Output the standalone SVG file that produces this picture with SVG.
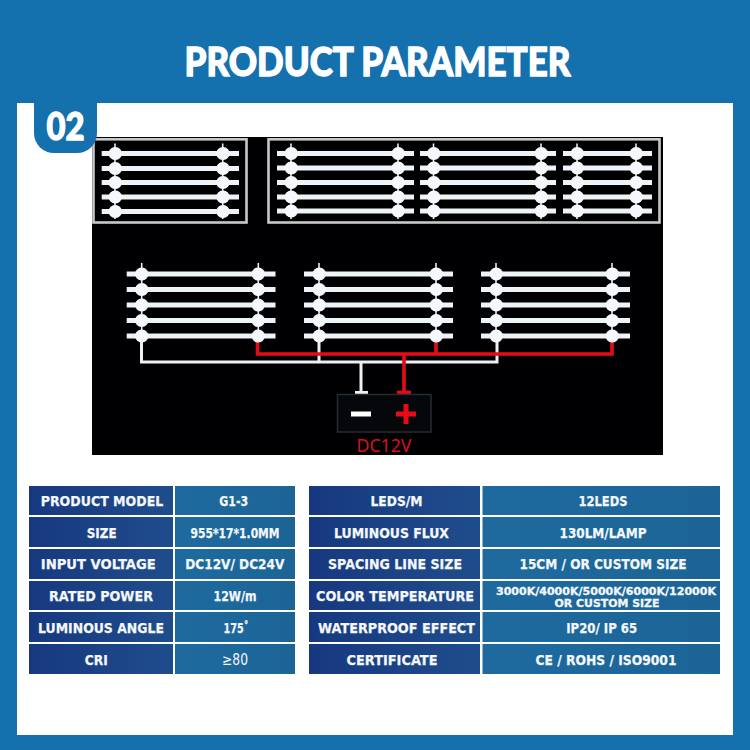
<svg xmlns="http://www.w3.org/2000/svg" width="750" height="750" viewBox="0 0 750 750">
<style>
.t{font-family:"DejaVu Sans","Liberation Sans",sans-serif;font-weight:700;font-size:14px;fill:#f4f7fb;stroke:#f4f7fb;stroke-width:.25;text-anchor:middle}
.s{font-size:10.5px;stroke-width:.3}
.n{font-weight:400;stroke-width:0;font-size:15px}
.h{font-family:Lato,"Liberation Sans",sans-serif;font-weight:900;fill:#fff;stroke:#fff;stroke-width:1.3;text-anchor:middle}
.bar{fill:none;stroke:#eef3f8;stroke-width:5.2}
.pin{fill:none;stroke:#e8edf2;stroke-width:1.6}
.bead{fill:none;stroke:#f4f7fb;stroke-width:13;stroke-linecap:round}
.frame{fill:#000;stroke:#c6c9cc;stroke-width:2.6}
.l{fill:url(#lg)}
.v{fill:url(#vg)}
.wire-w{fill:none;stroke:#eef0f2;stroke-width:3}
.wire-r{fill:none;stroke:#e60c17;stroke-width:3.6}
</style>
<defs>
<linearGradient id="lg" x1="0" x2="1" y1="0" y2="0"><stop offset="0" stop-color="#17387f"/><stop offset="1" stop-color="#1f4d8c"/></linearGradient>
<linearGradient id="vg" x1="0" x2="1" y1="0" y2="0"><stop offset="0" stop-color="#1e6a9f"/><stop offset="1" stop-color="#1c6496"/></linearGradient>
</defs>
<rect width="750" height="750" fill="#1570ae"/>
<rect x="17" y="103" width="716" height="632" fill="#fff"/>
<text class="h" x="377.500" y="75.500" font-size="40" textLength="386" lengthAdjust="spacingAndGlyphs">PRODUCT PARAMETER</text>
<rect x="92" y="137" width="571" height="318" fill="#000003"/>

<g id="top-left-panel">
<rect class="frame" x="93.500" y="139.300" width="153" height="83.200"/>
<path class="pin" d="M115 143.500V219M222.700 143.500V219"/>
<path class="bar" d="M101.700 153.500H239M101.700 168.500H239M101.700 182.500H239M101.700 197H239M101.700 211.500H239"/>
<path class="bead" d="M115 153.500h.5M115 168.500h.5M115 182.500h.5M115 197h.5M115 211.500h.5M222.700 153.500h.5M222.700 168.500h.5M222.700 182.500h.5M222.700 197h.5M222.700 211.500h.5"/>
</g>
<g id="top-right-panel">
<rect class="frame" x="268.500" y="139.300" width="391" height="83.200"/>
<path class="pin" d="M291 143.500V219M398 143.500V219M433.500 143.500V219M541 143.500V219M577 143.500V219M636 143.500V219"/>
<path class="bar" d="M277 153.500H414M277 168H414M277 182.500H414M277 197H414M277 211H414M420 153.500H556M420 168H556M420 182.500H556M420 197H556M420 211H556M563 153.500H652M563 168H652M563 182.500H652M563 197H652M563 211H652"/>
<path class="bead" d="M291 153.500h.5M291 168h.5M291 182.500h.5M291 197h.5M291 211h.5M398 153.500h.5M398 168h.5M398 182.500h.5M398 197h.5M398 211h.5M433.500 153.500h.5M433.500 168h.5M433.500 182.500h.5M433.500 197h.5M433.500 211h.5M541 153.500h.5M541 168h.5M541 182.500h.5M541 197h.5M541 211h.5M577 153.500h.5M577 168h.5M577 182.500h.5M577 197h.5M577 211h.5M636 153.500h.5M636 168h.5M636 182.500h.5M636 197h.5M636 211h.5"/>
</g>

<g id="connectors">
<path class="wire-w" d="M141.500 340V362H497V340M319 340V362M361 362V392"/>
<path class="wire-w" d="M355 392.500H368"/>
<path class="wire-r" d="M257.500 342V354H612V342M436 342V354M404 354V392"/>
<path class="wire-r" d="M397 392.500H411"/>
</g>
<g id="strip-group-1">
<path class="pin" d="M141.700 263V342M258.300 263V342"/>
<path class="bar" d="M126.700 274H275.500M126.700 289.500H275.500M126.700 305H275.500M126.700 320.500H275.500M126.700 336H275.500"/>
<path class="bead" d="M141.500 274h.5M141.500 289.500h.5M141.500 305h.5M141.500 320.500h.5M141.500 336h.5M258 274h.5M258 289.500h.5M258 305h.5M258 320.500h.5M258 336h.5"/>
</g>
<g id="strip-group-2">
<path class="pin" d="M319 263V342M436 263V342"/>
<path class="bar" d="M304 274H453M304 289.500H453M304 305H453M304 320.500H453M304 336H453"/>
<path class="bead" d="M319 274h.5M319 289.500h.5M319 305h.5M319 320.500h.5M319 336h.5M436 274h.5M436 289.500h.5M436 305h.5M436 320.500h.5M436 336h.5"/>
</g>
<g id="strip-group-3">
<path class="pin" d="M496 263V342M612 263V342"/>
<path class="bar" d="M481 274H630M481 289.500H630M481 305H630M481 320.500H630M481 336H630"/>
<path class="bead" d="M496 274h.5M496 289.500h.5M496 305h.5M496 320.500h.5M496 336h.5M612 274h.5M612 289.500h.5M612 305h.5M612 320.500h.5M612 336h.5"/>
</g>
<g id="power-supply">
<rect x="337.500" y="394.500" width="93.500" height="37.500" fill="#05070a" stroke="#262c34" stroke-width="1.500"/>
<rect x="351" y="411.500" width="20" height="5" fill="#fff"/>
<path d="M396 414H416M406 404V424" fill="none" stroke="#e60c17" stroke-width="5"/>
<text x="384" y="452" font-family="'Noto Sans','Liberation Sans',sans-serif" font-size="18.500" fill="#d8121c" text-anchor="middle" textLength="55" lengthAdjust="spacingAndGlyphs">DC12V</text>
</g>

<g id="badge">
<path d="M34 103H97V133a20 20 0 0 1-20 20H54a20 20 0 0 1-20-20Z" fill="#1570ae"/>
<text class="h" x="65.500" y="140" font-size="38" textLength="38" lengthAdjust="spacingAndGlyphs">02</text>
</g>

<g id="table-left">
<rect class="l" x="29" y="486" width="144" height="29"/><rect class="v" x="175" y="486" width="120" height="29"/>
<rect class="l" x="29" y="517" width="144" height="30"/><rect class="v" x="175" y="517" width="120" height="30"/>
<rect class="l" x="29" y="549" width="144" height="30"/><rect class="v" x="175" y="549" width="120" height="30"/>
<rect class="l" x="29" y="581" width="144" height="29"/><rect class="v" x="175" y="581" width="120" height="29"/>
<rect class="l" x="29" y="612" width="144" height="30"/><rect class="v" x="175" y="612" width="120" height="30"/>
<rect class="l" x="29" y="644" width="144" height="30"/><rect class="v" x="175" y="644" width="120" height="30"/>
<text class="t" x="102" y="506" textLength="122.500" lengthAdjust="spacingAndGlyphs">PRODUCT MODEL</text>
<text class="t" x="101.700" y="537.500" textLength="30" lengthAdjust="spacingAndGlyphs">SIZE</text>
<text class="t" x="98.300" y="569" textLength="115" lengthAdjust="spacingAndGlyphs">INPUT VOLTAGE</text>
<text class="t" x="101" y="600.500" textLength="104" lengthAdjust="spacingAndGlyphs">RATED POWER</text>
<text class="t" x="101" y="632.500" textLength="126" lengthAdjust="spacingAndGlyphs">LUMINOUS ANGLE</text>
<text class="t" x="96.300" y="665" textLength="23" lengthAdjust="spacingAndGlyphs">CRI</text>
<text class="t" x="233.700" y="506" textLength="29" lengthAdjust="spacingAndGlyphs">G1-3</text>
<text class="t" x="235" y="537.500" textLength="89" lengthAdjust="spacingAndGlyphs">955*17*1.0MM</text>
<text class="t" x="234.800" y="569" textLength="99" lengthAdjust="spacingAndGlyphs">DC12V/ DC24V</text>
<text class="t" x="235" y="600.500" textLength="43" lengthAdjust="spacingAndGlyphs">12W/m</text>
<text class="t" x="236" y="632.500" textLength="25" lengthAdjust="spacingAndGlyphs">175˚</text>
<text class="t n" x="235" y="665" textLength="26" lengthAdjust="spacingAndGlyphs">≥80</text>
</g>
<g id="table-right">
<rect class="l" x="309" y="486" width="171" height="29"/><rect class="v" x="482.500" y="486" width="237.500" height="29"/>
<rect class="l" x="309" y="517" width="171" height="30"/><rect class="v" x="482.500" y="517" width="237.500" height="30"/>
<rect class="l" x="309" y="549" width="171" height="30"/><rect class="v" x="482.500" y="549" width="237.500" height="30"/>
<rect class="l" x="309" y="581" width="171" height="29"/><rect class="v" x="482.500" y="581" width="237.500" height="29"/>
<rect class="l" x="309" y="612" width="171" height="30"/><rect class="v" x="482.500" y="612" width="237.500" height="30"/>
<rect class="l" x="309" y="644" width="171" height="30"/><rect class="v" x="482.500" y="644" width="237.500" height="30"/>
<text class="t" x="396.500" y="506" textLength="52" lengthAdjust="spacingAndGlyphs">LEDS/M</text>
<text class="t" x="391.500" y="538" textLength="115" lengthAdjust="spacingAndGlyphs">LUMINOUS FLUX</text>
<text class="t" x="395" y="568.500" textLength="134" lengthAdjust="spacingAndGlyphs">SPACING LINE SIZE</text>
<text class="t" x="395" y="600.500" textLength="158" lengthAdjust="spacingAndGlyphs">COLOR TEMPERATURE</text>
<text class="t" x="396.500" y="632.500" textLength="157" lengthAdjust="spacingAndGlyphs">WATERPROOF EFFECT</text>
<text class="t" x="392" y="665" textLength="91" lengthAdjust="spacingAndGlyphs">CERTIFICATE</text>
<text class="t" x="603" y="506" textLength="49" lengthAdjust="spacingAndGlyphs">12LEDS</text>
<text class="t" x="603" y="537.500" textLength="87" lengthAdjust="spacingAndGlyphs">130LM/LAMP</text>
<text class="t" x="603" y="568.500" textLength="167" lengthAdjust="spacingAndGlyphs">15CM / OR CUSTOM SIZE</text>
<text class="t s" x="606" y="594.500" textLength="220" lengthAdjust="spacingAndGlyphs">3000K/4000K/5000K/6000K/12000K</text>
<text class="t s" x="607" y="607" textLength="105" lengthAdjust="spacingAndGlyphs">OR CUSTOM SIZE</text>
<text class="t" x="601.700" y="632.500" textLength="71" lengthAdjust="spacingAndGlyphs">IP20/ IP 65</text>
<text class="t" x="606" y="665" textLength="141" lengthAdjust="spacingAndGlyphs">CE / ROHS / ISO9001</text>
</g>
</svg>
